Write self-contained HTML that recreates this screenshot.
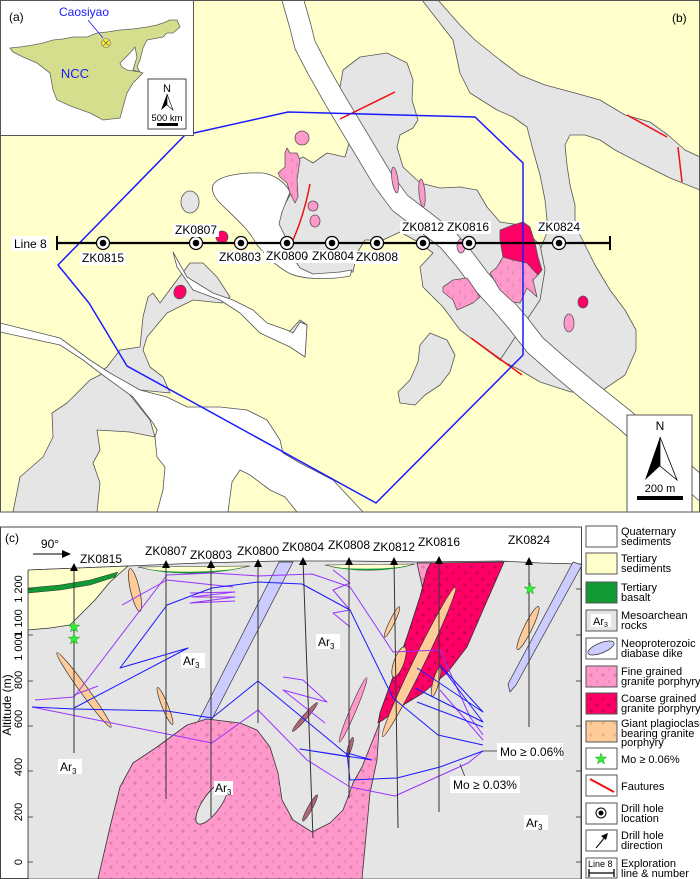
<!DOCTYPE html>
<html><head><meta charset="utf-8"><style>
html,body{margin:0;padding:0;background:#fff;}
svg{display:block;font-family:"Liberation Sans",sans-serif;}
</style></head><body>
<svg width="700" height="879" viewBox="0 0 700 879" xmlns="http://www.w3.org/2000/svg">
<defs>
<clipPath id="mapclip"><rect x="0" y="0" width="700" height="512"/></clipPath>
<clipPath id="secclip"><rect x="28" y="527" width="553" height="352"/></clipPath>
<pattern id="pf" width="12" height="12" patternUnits="userSpaceOnUse"><rect width="12" height="12" fill="#ff99cc"/><path d="M1 3h4M3 1v4" stroke="#c86f98" stroke-width="0.7"/><path d="M9 8v3" stroke="#c86f98" stroke-width="0.7"/></pattern>
<pattern id="pm" width="12" height="12" patternUnits="userSpaceOnUse"><rect width="12" height="12" fill="#ff99cc"/><path d="M4 2v4M9 7v4" stroke="#c86f98" stroke-width="0.6"/></pattern>
<pattern id="pr" width="12" height="12" patternUnits="userSpaceOnUse"><rect width="12" height="12" fill="#ff0066"/><path d="M1 3h4M3 1v4M7 9h4M9 7v4" stroke="#b0004a" stroke-width="0.7"/></pattern>
<pattern id="po" width="12" height="12" patternUnits="userSpaceOnUse"><rect width="12" height="12" fill="#ffcc99"/><path d="M1 3h4M3 1v4" stroke="#c89a70" stroke-width="0.6"/></pattern>
<polygon id="star" points="0,-6 1.41,-1.94 5.71,-1.85 2.28,0.74 3.53,4.85 0,2.4 -3.53,4.85 -2.28,0.74 -5.71,-1.85 -1.41,-1.94" fill="#33ee33" stroke="#229922" stroke-width="0.5"/>
</defs>

<!-- ================= MAP ================= -->
<g clip-path="url(#mapclip)" stroke="#555" stroke-width="0.8" stroke-linejoin="round">
<rect x="0" y="0" width="700" height="512" fill="#ffffcc" stroke="none"/>
<!-- east gray + NE band -->
<polygon fill="#e5e5e5" points="422,0 438,0 460,25 475,40 500,60 520,75 545,85 575,93 600,100 625,115 650,122 668,135 685,150 700,157 700,190 670,178 640,163 615,150 600,140 585,135 570,135 565,145 567,165 570,185 575,205 575,225 585,245 595,265 610,290 625,310 636,330 636,350 625,375 600,392 571,392 540,382 520,370 500,360 520,300 548,230 545,200 540,175 533,150 527,127 513,117 497,110 470,93 460,73 453,40"/>
<!-- central gray -->
<polygon fill="#e5e5e5" points="340,87 343,70 360,57 387,53 407,63 413,80 412,100 418,120 413,128 400,135 397,147 403,167 420,183 440,188 460,187 477,190 487,207 500,222 520,225 540,245 545,270 540,300 520,330 500,360 480,345 460,330 443,307 423,287 420,267 433,253 420,243 400,232 383,240 365,240 357,253 353,272 345,272 320,277 300,272 290,262 287,240 278,223 280,213 290,195 290,180 297,160 303,157 313,163 327,153 345,157 350,140 345,120"/>
<!-- white bubble W1 -->
<path fill="#fff" d="M213,185 C218,176 240,172 263,173 C275,175 285,182 290,192 L282,212 L279,224 L287,240 L292,256 L300,268 L313,274 L340,272 L352,270 L350,276 C330,280 300,280 287,272 C270,262 262,250 257,245 C248,228 235,218 222,205 C214,198 211,190 213,185 Z"/>
<!-- small gray blobs -->
<ellipse cx="190" cy="202" rx="9" ry="11" fill="#e5e5e5"/>
<polygon fill="#e5e5e5" points="430,333 447,340 455,355 450,372 440,385 425,395 415,405 400,403 398,392 410,380 418,362 420,345"/>
<!-- left lower gray -->
<polygon fill="#e5e5e5" points="13,512 20,477 43,457 53,437 52,413 67,403 90,380 110,370 150,420 155,437 130,432 97,430 100,450 93,463 100,483 97,512"/>
<polygon fill="#e5e5e5" points="100,372 107,367 120,350 140,347 143,317 148,297 153,293 160,303 177,280 190,263 203,263 217,277 230,297 222,303 193,300 167,313 147,337 143,350 150,367 163,377 170,393 140,390"/>
<polygon fill="#e5e5e5" points="288,333 300,320 307,325 305,357"/>
<!-- white lower region -->
<polygon fill="#fff" points="0,323 60,338 90,360 110,373 140,390 167,397 187,407 220,407 247,410 267,420 280,440 283,453 300,463 333,480 363,512 297,512 285,497 270,490 250,475 240,470 232,482 228,512 157,512 163,490 165,467 157,457 155,437 157,430 153,423 133,397 100,373 83,360 60,345 0,332"/>
<!-- ZK0807 white dike -->
<polygon fill="#fff" points="173,252 187,277 213,293 233,300 253,310 267,323 287,330 293,333 300,322 307,325 305,357 290,347 260,333 240,313 220,300 193,290 177,267"/>
<!-- main white dike -->
<polyline fill="none" stroke="#555" stroke-width="22" stroke-linejoin="round" points="290,-10 300,25 305,45 318,70 335,100 350,125 365,150 383,180 400,203 425,222 448,240 465,260 480,280 500,302 518,323 535,345 560,367 590,392 625,420 660,452 720,505"/>
<polyline fill="none" stroke="#fff" stroke-width="20.4" stroke-linejoin="round" points="290,-10 300,25 305,45 318,70 335,100 350,125 365,150 383,180 400,203 425,222 448,240 465,260 480,280 500,302 518,323 535,345 560,367 590,392 625,420 660,452 720,505"/>
<!-- pink / red bodies -->
<polygon fill="url(#pm)" points="503,257 527,263 538,275 533,280 537,297 527,288 520,303 513,302 500,290 490,273 497,267"/>
<polygon fill="#ff0066" points="500,230 513,225 523,222 530,227 535,243 538,257 542,270 538,275 527,263 513,260 503,257 500,240"/>
<polygon fill="url(#pm)" points="443,287 453,280 467,278 480,297 473,303 457,310 453,300 443,292"/>
<ellipse cx="461" cy="246" rx="4" ry="7" fill="#ff99cc"/>
<ellipse cx="395" cy="180" rx="3" ry="13" fill="#ff99cc" transform="rotate(-8 395 180)"/>
<ellipse cx="422" cy="193" rx="3" ry="14" fill="#ff99cc" transform="rotate(-5 422 193)"/>
<ellipse cx="302" cy="138" rx="7" ry="7" fill="#ff99cc"/>
<polygon fill="url(#pm)" points="287,148 290,153 297,153 300,160 297,180 298,197 295,203 290,193 287,183 280,177 278,173 285,167 285,153"/>
<ellipse cx="313" cy="206" rx="5" ry="5" fill="#ff99cc"/>
<ellipse cx="315" cy="221" rx="5" ry="6" fill="#ff99cc"/>
<ellipse cx="222" cy="237" rx="6" ry="6" fill="#ff0066"/>
<ellipse cx="180" cy="292" rx="6" ry="7" fill="#ff0066" transform="rotate(20 180 292)"/>
<ellipse cx="583" cy="302" rx="5" ry="6" fill="#ff0066"/>
<ellipse cx="569" cy="323" rx="5" ry="9" fill="#ff99cc"/>
</g>
<g clip-path="url(#mapclip)" fill="none">
<!-- faults -->
<g stroke="#ee1111" stroke-width="1.5">
<line x1="340" y1="119" x2="395" y2="92"/>
<path d="M310,184 Q304,215 293,240"/>
<line x1="471" y1="338" x2="522" y2="375"/>
<line x1="627" y1="115" x2="667" y2="137"/>
<line x1="678" y1="147" x2="682" y2="182"/>
</g>
<!-- blue boundary -->
<polyline stroke="#1a1aff" stroke-width="1.5" points="185,135 288,112 475,117 523,163 523,355 376,503 127,366 89,303 58,265 185,135"/>
</g>
<!-- Line 8 -->
<line x1="57" y1="243" x2="610" y2="243" stroke="#000" stroke-width="2.2"/>
<line x1="57" y1="236" x2="57" y2="250" stroke="#000" stroke-width="2"/>
<line x1="610" y1="236" x2="610" y2="250" stroke="#000" stroke-width="2"/>
<rect x="11" y="236" width="38" height="15" fill="#fff"/>
<text x="14" y="248" font-size="12">Line 8</text>
<g fill="#fff" stroke="#000" stroke-width="1.2">
<circle cx="103" cy="243" r="6.5"/><circle cx="196" cy="243" r="6.5"/><circle cx="241" cy="243" r="6.5"/><circle cx="287" cy="243" r="6.5"/><circle cx="332" cy="243" r="6.5"/><circle cx="377" cy="243" r="6.5"/><circle cx="423" cy="243" r="6.5"/><circle cx="469" cy="243" r="6.5"/><circle cx="559" cy="243" r="6.5"/>
</g>
<g fill="#000">
<circle cx="103" cy="243" r="3.3"/><circle cx="196" cy="243" r="3.3"/><circle cx="241" cy="243" r="3.3"/><circle cx="287" cy="243" r="3.3"/><circle cx="332" cy="243" r="3.3"/><circle cx="377" cy="243" r="3.3"/><circle cx="423" cy="243" r="3.3"/><circle cx="469" cy="243" r="3.3"/><circle cx="559" cy="243" r="3.3"/>
</g>
<g font-size="12" text-anchor="middle">
<rect x="80" y="252" width="46" height="13" fill="#fff"/><text x="103" y="262">ZK0815</text>
<rect x="173" y="224" width="46" height="13" fill="#fff"/><text x="196" y="234">ZK0807</text>
<rect x="217" y="251" width="46" height="13" fill="#fff"/><text x="240" y="261">ZK0803</text>
<rect x="264" y="250" width="46" height="13" fill="#fff"/><text x="287" y="260">ZK0800</text>
<text x="306" y="260">-</text>
<rect x="310" y="250" width="46" height="13" fill="#fff"/><text x="333" y="260">ZK0804</text>
<rect x="354" y="251" width="46" height="13" fill="#fff"/><text x="377" y="261">ZK0808</text>
<rect x="400" y="221" width="46" height="13" fill="#fff"/><text x="423" y="231">ZK0812</text>
<rect x="445" y="221" width="46" height="13" fill="#fff"/><text x="468" y="231">ZK0816</text>
<rect x="536" y="221" width="46" height="13" fill="#fff"/><text x="559" y="231">ZK0824</text>
</g>
<text x="672" y="22" font-size="12">(b)</text>
<!-- north arrow -->
<rect x="627" y="415" width="65" height="97" fill="#fff" stroke="#555" stroke-width="1"/>
<text x="660" y="430" font-size="12" text-anchor="middle">N</text>
<polygon points="660,437 645,480 660,466" fill="#000"/>
<polygon points="660,437 677,480 660,466" fill="#fff" stroke="#000" stroke-width="0.8"/>
<text x="660" y="492" font-size="11" text-anchor="middle">200 m</text>
<rect x="637" y="496" width="46" height="4" fill="#000"/>
<!-- map frame -->
<rect x="0.5" y="0.5" width="699" height="511.5" fill="none" stroke="#555" stroke-width="1"/>

<!-- inset (a) -->
<rect x="0.5" y="0.5" width="193" height="135" fill="#fff" stroke="#555" stroke-width="1"/>
<text x="9" y="21" font-size="12">(a)</text>
<polygon fill="#d4de8c" stroke="#666" stroke-width="0.8" points="10,48 20,47 33,45 43,43 53,40 63,39 73,37 87,37 97,33 107,32 120,30 133,29 147,27 157,25 163,23 170,20 177,20 180,27 173,33 167,33 163,37 147,40 143,48 140,60 137,67 140,72 143,73 133,83 127,93 123,107 120,118 103,120 90,113 73,107 57,100 53,90 50,73 37,63 23,57 13,52"/>
<polygon fill="#fff" stroke="#666" stroke-width="0.8" points="120,63 130,53 135,47 137,57 133,70 140,72 127,70 122,67"/>
<text x="84" y="16" font-size="12" fill="#1a1aff" text-anchor="middle">Caosiyao</text>
<line x1="88" y1="20" x2="103" y2="38" stroke="#1a1aff" stroke-width="0.8"/>
<circle cx="106" cy="43" r="4.5" fill="#ffee33" stroke="#888" stroke-width="0.8"/>
<path d="M103.5,40.5 L108.5,45.5 M108.5,40.5 L103.5,45.5" stroke="#666" stroke-width="0.8"/>
<text x="75" y="78" font-size="13" fill="#1a1aff" text-anchor="middle">NCC</text>
<rect x="148" y="79" width="38" height="50" fill="#fff" stroke="#444" stroke-width="1"/>
<text x="167" y="92" font-size="11" text-anchor="middle">N</text>
<polygon points="167,94 161,110 167,105" fill="#000"/>
<polygon points="167,94 173,110 167,105" fill="#fff" stroke="#000" stroke-width="0.6"/>
<text x="167" y="121" font-size="9.5" text-anchor="middle">500 km</text>
<rect x="157" y="123" width="21" height="3" fill="#000"/>

<!-- ================= SECTION (c) ================= -->
<rect x="0.5" y="527" width="581" height="351.5" fill="#fff" stroke="#444" stroke-width="1"/>
<g clip-path="url(#secclip)" stroke-linejoin="round">
<polygon fill="#e5e5e5" stroke="#333" stroke-width="0.8" points="28,570 80,568 128,566 200,563 280,561 350,561 420,562 500,561 540,563 581,564 581,879 28,879"/>
<polygon fill="#ffffcc" stroke="#333" stroke-width="0.8" points="28,570 128,566 110,582 95,600 80,615 70,625 50,628 28,630"/>
<polygon fill="#119933" stroke="#333" stroke-width="0.5" points="28,588 60,585 90,580 118,572 115,577 90,585 60,590 28,593"/>
<path d="M138,567 Q190,580 250,566 Z" fill="#ffffcc" stroke="#333" stroke-width="0.6"/>
<path d="M145,569 Q190,578 243,568 Q190,575 145,569 Z" fill="#119933"/>
<path d="M325,565 Q370,576 415,564 Z" fill="#ffffcc" stroke="#333" stroke-width="0.6"/>
<path d="M330,567 Q370,574 410,566 Q370,571 330,567 Z" fill="#119933"/>
<!-- dikes lavender -->
<polygon fill="#ccccff" stroke="#333" stroke-width="0.7" points="198,722 212,719 293,562 279,562"/>
<polygon fill="#ccccff" stroke="#333" stroke-width="0.7" points="510,692 516,685 582,565 573,562 508,684"/>
<!-- pluton -->
<polygon fill="url(#pf)" stroke="#333" stroke-width="0.8" points="98,879 110,827 120,787 133,763 157,747 187,725 207,719 240,723 257,730 270,747 278,773 282,800 293,820 312,832 330,823 343,810 348,797 353,783 362,767 370,747 378,727 390,690 403,657 417,617 423,590 417,563 431,563 427,570 420,597 407,637 393,677 380,713 377,760 370,793 362,879"/>
<polygon fill="url(#pr)" stroke="#333" stroke-width="0.8" points="431,563 504,562 483,610 467,647 447,673 423,693 400,707 383,720 378,723 380,713 393,677 407,637 420,597 427,570"/>
<ellipse cx="212" cy="803" rx="9" ry="25" transform="rotate(35 212 803)" fill="#e5e5e5" stroke="#333" stroke-width="0.8"/>
<!-- orange lenses -->
<g fill="#ffcc99" stroke="#333" stroke-width="0.7">
<ellipse cx="84" cy="690" rx="4" ry="46" transform="rotate(-36 84 690)"/>
<ellipse cx="165" cy="706" rx="3" ry="20" transform="rotate(-22 165 706)"/>
<ellipse cx="135" cy="590" rx="4.5" ry="22" transform="rotate(-13 135 590)"/>
<ellipse cx="419" cy="662" rx="5.5" ry="83" transform="rotate(26 419 662)"/>
<ellipse cx="399" cy="662" rx="5" ry="16" transform="rotate(20 399 662)"/>
<ellipse cx="436" cy="682" rx="3" ry="15" transform="rotate(15 436 682)"/>
<ellipse cx="528" cy="628" rx="4" ry="24" transform="rotate(26 528 628)"/>
<ellipse cx="392" cy="622" rx="2.5" ry="17" transform="rotate(26 392 622)"/>
</g>
<g fill="#b06878" stroke="#333" stroke-width="0.6">
<ellipse cx="305" cy="717" rx="2.3" ry="19" transform="rotate(41 305 717)"/>
<ellipse cx="310" cy="808" rx="2.3" ry="15" transform="rotate(29 310 808)"/>
<ellipse cx="350" cy="747" rx="2" ry="10" transform="rotate(17 350 747)"/>
</g>
<ellipse cx="353" cy="710" rx="3" ry="35" transform="rotate(23 353 710)" fill="#ff99cc" stroke="#333" stroke-width="0.6"/>
<!-- mineralization -->
<g fill="none" stroke="#9933ff" stroke-width="1">
<polyline points="35,700 74,697 167,575 212,573 258,576 312,574 350,587 393,652 440,650 470,717 483,735"/>
<polyline points="74,695 98,686"/>
<polyline points="122,605 167,580 233,587"/>
<polyline points="190,593 235,592 192,597 235,597 190,603 235,601"/>
<polyline points="32,707 212,743 258,710 307,760 350,787 395,796 468,763 483,751"/>
<polyline points="283,677 303,680 327,702 283,690 325,723"/>
<polyline points="333,570 350,583 333,590 350,610 333,613 350,627"/>
<polyline points="440,690 483,740"/>
</g>
<g fill="none" stroke="#1a1aff" stroke-width="1">
<polyline points="32,707 74,709 167,711 212,718 258,681 350,757 300,749 372,760"/>
<polyline points="74,708 188,648 120,668 167,605 212,588 258,582 302,584 350,610 393,698 438,735 483,745"/>
<polyline points="415,688 483,722 440,665 483,712 417,668"/>
<polyline points="417,702 483,727"/>
<polyline points="483,751 440,767 397,778 350,780 347,753 372,760"/>
</g>
<!-- drill holes -->
<g stroke="#333" stroke-width="1">
<line x1="74" y1="565" x2="74" y2="753"/>
<line x1="166" y1="562" x2="166" y2="799"/>
<line x1="211" y1="562" x2="211" y2="817"/>
<line x1="258" y1="561" x2="258" y2="723"/>
<line x1="303" y1="559" x2="313" y2="838"/>
<line x1="349" y1="559" x2="349" y2="798"/>
<line x1="394" y1="559" x2="398" y2="828"/>
<line x1="439" y1="558" x2="439" y2="812"/>
<line x1="529" y1="559" x2="529" y2="727"/>
</g>
<g fill="#000">
<polygon points="74,563 70,571 78,571"/>
<polygon points="166,560 162,568 170,568"/>
<polygon points="211,560 207,568 215,568"/>
<polygon points="258,559 254,567 262,567"/>
<polygon points="303,557 299,565 307,565"/>
<polygon points="349,557 345,565 353,565"/>
<polygon points="394,557 390,565 398,565"/>
<polygon points="439,556 435,564 443,564"/>
<polygon points="529,557 525,565 533,565"/>
</g>
<use href="#star" x="74" y="627"/>
<use href="#star" x="74" y="639"/>
<use href="#star" x="530" y="589"/>
<!-- Ar3 labels -->
<g font-size="12">
<rect x="58" y="759" width="24" height="15" fill="#fff"/><text x="60" y="771">Ar<tspan font-size="8" dy="3">3</tspan></text>
<rect x="181" y="653" width="24" height="15" fill="#fff"/><text x="183" y="665">Ar<tspan font-size="8" dy="3">3</tspan></text>
<rect x="316" y="634" width="24" height="15" fill="#fff"/><text x="318" y="646">Ar<tspan font-size="8" dy="3">3</tspan></text>
<rect x="214" y="781" width="19" height="14" fill="#fff"/><text x="215" y="792">Ar<tspan font-size="8" dy="3">3</tspan></text>
<rect x="524" y="815" width="24" height="15" fill="#fff"/><text x="526" y="827">Ar<tspan font-size="8" dy="3">3</tspan></text>
</g>
<!-- Mo labels -->
<line x1="483" y1="751" x2="498" y2="751" stroke="#333" stroke-width="0.8"/>
<rect x="497" y="743" width="66" height="17" fill="#fff"/>
<text x="500" y="756" font-size="12">Mo ≥ 0.06%</text>
<line x1="460" y1="764" x2="465" y2="777" stroke="#333" stroke-width="0.8"/>
<rect x="450" y="776" width="70" height="17" fill="#fff"/>
<text x="453" y="789" font-size="12">Mo ≥ 0.03%</text>
</g>
<!-- section frame line on left axis -->
<line x1="28" y1="570" x2="28" y2="879" stroke="#333" stroke-width="0.8"/>
<g stroke="#333" stroke-width="0.8">
<line x1="28" y1="589" x2="33" y2="589"/><line x1="28" y1="635" x2="33" y2="635"/><line x1="28" y1="681" x2="33" y2="681"/><line x1="28" y1="726" x2="33" y2="726"/><line x1="28" y1="771" x2="33" y2="771"/><line x1="28" y1="817" x2="33" y2="817"/><line x1="28" y1="862" x2="33" y2="862"/>
<line x1="576" y1="589" x2="581" y2="589"/><line x1="576" y1="635" x2="581" y2="635"/><line x1="576" y1="681" x2="581" y2="681"/><line x1="576" y1="726" x2="581" y2="726"/><line x1="576" y1="771" x2="581" y2="771"/><line x1="576" y1="817" x2="581" y2="817"/><line x1="576" y1="862" x2="581" y2="862"/>
</g>
<g font-size="11" text-anchor="middle">
<text transform="translate(22 589) rotate(-90)">1 200</text>
<text transform="translate(22 623) rotate(-90)">1 100</text>
<text transform="translate(22 647) rotate(-90)">1 000</text>
<text transform="translate(22 680) rotate(-90)">800</text>
<text transform="translate(22 719) rotate(-90)">600</text>
<text transform="translate(22 767) rotate(-90)">400</text>
<text transform="translate(22 812) rotate(-90)">200</text>
<text transform="translate(22 862) rotate(-90)">0</text>
<text transform="translate(11 705) rotate(-90)" font-size="12">Altitude (m)</text>
</g>
<text x="5" y="542" font-size="12">(c)</text>
<text x="50" y="548" font-size="12" text-anchor="middle">90°</text>
<line x1="33" y1="554" x2="64" y2="554" stroke="#000" stroke-width="1"/>
<polygon points="71,554 62,550 62,558" fill="#000"/>
<g font-size="12" text-anchor="middle">
<text x="101" y="563">ZK0815</text>
<text x="166" y="555">ZK0807</text>
<text x="211" y="559">ZK0803</text>
<text x="258" y="555">ZK0800</text>
<text x="303" y="551">ZK0804</text>
<text x="349" y="549">ZK0808</text>
<text x="394" y="551">ZK0812</text>
<text x="439" y="546">ZK0816</text>
<text x="529" y="544">ZK0824</text>
</g>

<!-- ================= LEGEND ================= -->
<g stroke="#555" stroke-width="1">
<rect x="586" y="526" width="31" height="21" fill="#fff"/>
<rect x="586" y="553" width="31" height="21" fill="#ffffcc"/>
<rect x="586" y="582" width="31" height="21" fill="#119933"/>
<rect x="586" y="610" width="31" height="21" fill="#e5e5e5"/>
<rect x="586" y="638" width="31" height="21" fill="#fff"/>
<rect x="586" y="666" width="31" height="21" fill="url(#pf)"/>
<rect x="586" y="693" width="31" height="21" fill="url(#pr)"/>
<rect x="586" y="721" width="31" height="21" fill="url(#po)"/>
<rect x="586" y="748" width="31" height="21" fill="#fff"/>
<rect x="586" y="775" width="31" height="21" fill="#fff"/>
<rect x="586" y="803" width="31" height="21" fill="#fff"/>
<rect x="586" y="830" width="31" height="21" fill="#fff"/>
<rect x="586" y="858" width="31" height="20" fill="#fff"/>
</g>
<rect x="591" y="614" width="20" height="13" fill="#fff"/>
<text x="593" y="625" font-size="11">Ar<tspan font-size="7" dy="2">3</tspan></text>
<ellipse cx="601" cy="648" rx="14" ry="5" transform="rotate(-22 601 648)" fill="#ccccff" stroke="#333" stroke-width="0.7"/>
<use href="#star" x="601" y="759"/>
<line x1="590" y1="779" x2="614" y2="792" stroke="#ee1111" stroke-width="2"/>
<circle cx="601" cy="813" r="5" fill="#fff" stroke="#000" stroke-width="1"/>
<circle cx="601" cy="813" r="2.5" fill="#000"/>
<line x1="596" y1="848" x2="606" y2="836" stroke="#000" stroke-width="1"/>
<polygon points="608,833 601,836 606,840" fill="#000"/>
<text x="588" y="867" font-size="9">Line 8</text>
<line x1="589" y1="873" x2="614" y2="873" stroke="#000" stroke-width="1.3"/>
<line x1="589" y1="869" x2="589" y2="877" stroke="#000" stroke-width="1.3"/>
<line x1="614" y1="869" x2="614" y2="877" stroke="#000" stroke-width="1.3"/>
<g font-size="11">
<text x="621" y="535">Quaternary</text><text x="621" y="545">sediments</text>
<text x="621" y="562">Tertiary</text><text x="621" y="572">sediments</text>
<text x="621" y="591">Tertiary</text><text x="621" y="601">basalt</text>
<text x="621" y="619">Mesoarchean</text><text x="621" y="629">rocks</text>
<text x="621" y="647">Neoproterozoic</text><text x="621" y="657">diabase dike</text>
<text x="621" y="675">Fine grained</text><text x="621" y="685">granite porphyry</text>
<text x="621" y="702">Coarse grained</text><text x="621" y="712">granite porphyry</text>
<text x="621" y="727">Giant plagioclase</text><text x="621" y="737">bearing granite</text><text x="621" y="746">porphyry</text>
<text x="621" y="763">Mo ≥ 0.06%</text>
<text x="621" y="790">Fautures</text>
<text x="621" y="812">Drill hole</text><text x="621" y="822">location</text>
<text x="621" y="839">Drill hole</text><text x="621" y="849">direction</text>
<text x="621" y="867">Exploration</text><text x="621" y="877">line &amp; number</text>
</g>
</svg>
</body></html>
